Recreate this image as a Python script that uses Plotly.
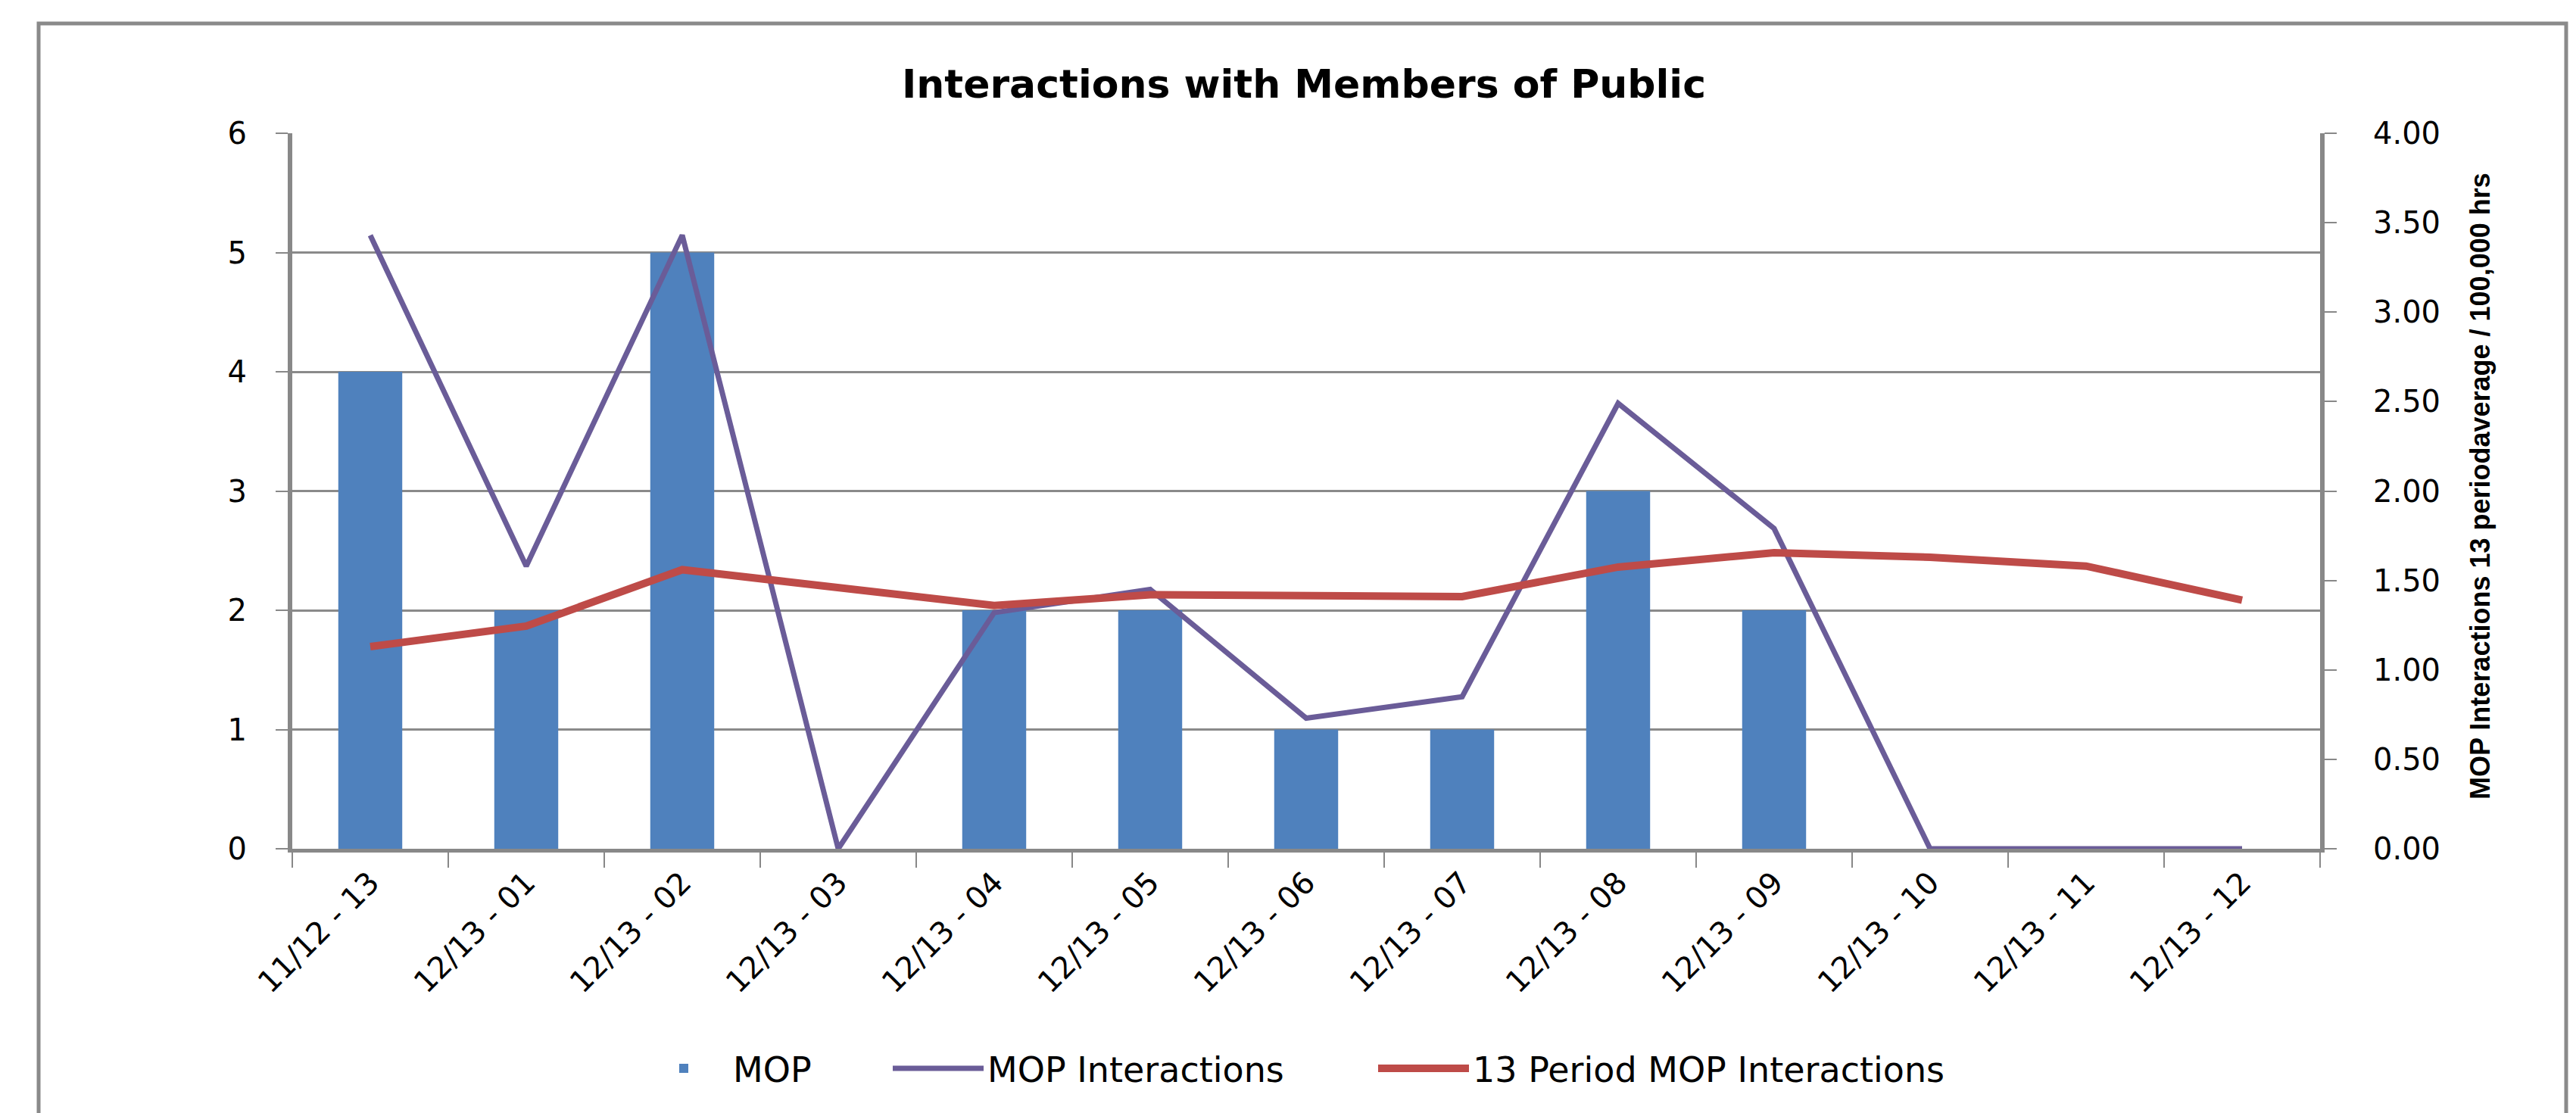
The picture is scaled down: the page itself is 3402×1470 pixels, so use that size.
import plotly.graph_objects as go

categories = ["11/12 - 13", "12/13 - 01", "12/13 - 02", "12/13 - 03", "12/13 - 04", "12/13 - 05",
              "12/13 - 06", "12/13 - 07", "12/13 - 08", "12/13 - 09", "12/13 - 10", "12/13 - 11",
              "12/13 - 12"]
mop = [4, 2, 5, 0, 2, 2, 1, 1, 3, 2, 0, 0, 0]
mop_interactions = [3.43, 1.58, 3.43, 0.0, 1.32, 1.45, 0.73, 0.85, 2.49, 1.79, 0.0, 0.0, 0.0]
mop_13_period = [1.13, 1.245, 1.56, 1.46, 1.36, 1.42, 1.41, 1.41, 1.575, 1.655, 1.63, 1.58, 1.39]
left_ticks = [0, 1, 2, 3, 4, 5, 6]
right_ticks = [0, 0.5, 1, 1.5, 2, 2.5, 3, 3.5, 4]

W, H = 3402, 1470
ML, MR, MT, MB = 378, 346, 168, 357
PW, PH = W - ML - MR, H - MT - MB

def px_x(x):
    return (x - ML) / PW

def px_y(y):
    return (H - MB - y) / PH

FONT = "DejaVu Sans, Verdana, sans-serif"
GRID = "#8a8a8a"
AXIS = "#888888"

fig = go.Figure()
fig.add_trace(go.Bar(x=categories, y=mop, name="MOP", marker=dict(color="#4F81BD", line=dict(width=0)),
                     yaxis="y", legend="legend"))
fig.add_trace(go.Scatter(x=categories, y=mop_interactions, name="MOP Interactions", mode="lines",
                         line=dict(color="#6A5C98", width=7), yaxis="y2", legend="legend2"))
fig.add_trace(go.Scatter(x=categories, y=mop_13_period, name="13 Period MOP Interactions", mode="lines",
                         line=dict(color="#BE4B48", width=10), yaxis="y2", legend="legend3"))

LEG_FONT = dict(family=FONT, size=46, color="#000000")
def leg(xpx):
    return dict(orientation="h", x=px_x(xpx), xanchor="left", y=px_y(1403), yanchor="middle",
                font=LEG_FONT, itemwidth=120, bgcolor="rgba(0,0,0,0)")

fig.update_layout(
    width=W, height=H,
    margin=dict(l=ML, r=MR, t=MT, b=MB, autoexpand=False),
    paper_bgcolor="white", plot_bgcolor="white",
    bargap=0.59,
    showlegend=True,
    title=dict(text="<b>Interactions with Members of Public</b>", x=px_x(1714), xref="paper",
               xanchor="center", y=1 - 103 / H, yref="container", yanchor="middle",
               font=dict(family=FONT, size=52, color="#000000")),
    font=dict(family=FONT, color="#000000"),
    xaxis=dict(type="category", tickson="boundaries", ticks="outside", ticklen=20, tickwidth=2,
               tickcolor=AXIS, showline=True, linecolor=AXIS, linewidth=5, showgrid=False,
               tickangle=-45, tickfont=dict(size=40, family=FONT, color="#000000"), automargin=False),
    yaxis=dict(range=[0, 6], tickvals=left_ticks, ticks="outside", ticklen=16, tickwidth=2,
               tickcolor=AXIS, showline=True, linecolor=AXIS, linewidth=6, showgrid=True,
               gridcolor=GRID, gridwidth=3, zeroline=False, ticklabelstandoff=30,
               tickfont=dict(size=40, family=FONT, color="#000000"), automargin=False),
    yaxis2=dict(range=[0, 4], tickvals=right_ticks, tickformat=".2f", overlaying="y", side="right",
                ticks="outside", ticklen=16, tickwidth=2, tickcolor=AXIS, showline=True,
                linecolor=AXIS, linewidth=6, showgrid=False, zeroline=False, ticklabelstandoff=40,
                tickfont=dict(size=40, family=FONT, color="#000000"), automargin=False),
    legend=leg(830),
    legend2=leg(1166),
    legend3=leg(1807),
    annotations=[dict(text="<b>MOP Interactions 13 periodaverage / 100,000 hrs</b>", xref="paper",
                      yref="paper", x=px_x(3267), y=px_y(634), xanchor="center", yanchor="middle",
                      textangle=-90, showarrow=False,
                      font=dict(family="Liberation Sans, Arial, sans-serif", size=36, color="#000000"))],
    shapes=[dict(type="rect", xref="paper", yref="paper", x0=px_x(43), x1=px_x(3381),
                 y0=px_y(1500), y1=px_y(23), line=dict(color="#8a8a8a", width=5),
                 fillcolor="rgba(0,0,0,0)", layer="below")],
)

fig.write_html("out.html")
